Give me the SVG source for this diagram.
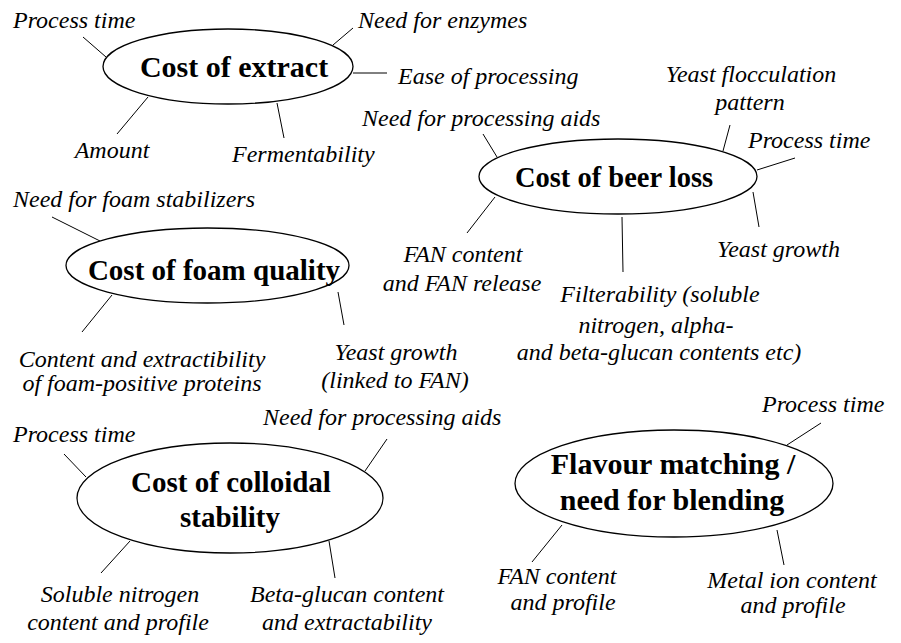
<svg xmlns="http://www.w3.org/2000/svg" width="901" height="643" viewBox="0 0 901 643">
<style>
.bg{fill:#ffffff}
.node ellipse{fill:#ffffff;stroke:#000000;stroke-width:1.3}
.title{font-family:"Liberation Serif","Times New Roman",serif;font-weight:bold;font-size:29px;fill:#000000;text-anchor:middle}
.lab{font-family:"Liberation Serif","Times New Roman",serif;font-style:italic;font-size:24px;fill:#000000}
.m{text-anchor:middle}
#connectors line{stroke:#000000;stroke-width:1}
</style>
<rect class="bg" x="0" y="0" width="901" height="643"/>
<g id="connectors">
  <line x1="83" y1="37" x2="106" y2="57"/>
  <line x1="333" y1="45" x2="353" y2="28"/>
  <line x1="353" y1="73" x2="387" y2="73"/>
  <line x1="148" y1="97" x2="117" y2="134"/>
  <line x1="277" y1="103" x2="284" y2="138"/>
  <line x1="483" y1="134" x2="497" y2="157"/>
  <line x1="730" y1="125" x2="723" y2="151"/>
  <line x1="795" y1="158" x2="757" y2="170"/>
  <line x1="753" y1="192" x2="759" y2="227"/>
  <line x1="622" y1="217" x2="623" y2="272"/>
  <line x1="495" y1="197" x2="467" y2="233"/>
  <line x1="52" y1="217" x2="100" y2="241"/>
  <line x1="112" y1="295" x2="82" y2="332"/>
  <line x1="338" y1="292" x2="344" y2="325"/>
  <line x1="64" y1="454" x2="86" y2="477"/>
  <line x1="387" y1="439" x2="365" y2="471"/>
  <line x1="130" y1="541" x2="101" y2="573"/>
  <line x1="329" y1="541" x2="335" y2="578"/>
  <line x1="821" y1="423" x2="787" y2="445"/>
  <line x1="562" y1="525" x2="532" y2="562"/>
  <line x1="777" y1="530" x2="784" y2="565"/>
</g>
<g id="node-extract" class="node">
  <ellipse cx="228" cy="66.5" rx="125" ry="37.5"/>
  <text class="title" x="234" y="77" style="font-size:30px">Cost of extract</text>
</g>
<g id="node-beer" class="node">
  <ellipse cx="618" cy="176.5" rx="139" ry="37.5"/>
  <text class="title" x="614" y="187" style="font-size:28.5px">Cost of beer loss</text>
</g>
<g id="node-foam" class="node">
  <ellipse cx="207.5" cy="265.5" rx="141.5" ry="37.5"/>
  <text class="title" x="214" y="280">Cost of foam quality</text>
</g>
<g id="node-colloidal" class="node">
  <ellipse cx="230" cy="498" rx="153" ry="55"/>
  <text class="title" x="231" y="492">Cost of colloidal</text>
  <text class="title" x="230" y="527">stability</text>
</g>
<g id="node-flavour" class="node">
  <ellipse cx="674" cy="483.5" rx="159" ry="53.5"/>
  <text class="title" x="673" y="474" style="font-size:30px">Flavour matching /</text>
  <text class="title" x="672" y="510" style="font-size:30px">need for blending</text>
</g>
<g id="labels-extract">
  <text class="lab" x="13" y="28">Process time</text>
  <text class="lab" x="358" y="28">Need for enzymes</text>
  <text class="lab" x="398" y="84">Ease of processing</text>
  <text class="lab m" x="112" y="158">Amount</text>
  <text class="lab" x="232" y="162">Fermentability</text>
</g>
<g id="labels-beer">
  <text class="lab" x="362" y="126">Need for processing aids</text>
  <text class="lab m" x="751" y="82">Yeast flocculation</text>
  <text class="lab m" x="750" y="110">pattern</text>
  <text class="lab" x="748" y="148">Process time</text>
  <text class="lab" x="717" y="257">Yeast growth</text>
  <text class="lab m" x="463" y="262">FAN content</text>
  <text class="lab m" x="462" y="291">and FAN release</text>
  <text class="lab m" x="660" y="302">Filterability (soluble</text>
  <text class="lab m" x="656" y="333">nitrogen, alpha-</text>
  <text class="lab m" x="659" y="360">and beta-glucan contents etc)</text>
</g>
<g id="labels-foam">
  <text class="lab" x="13" y="207">Need for foam stabilizers</text>
  <text class="lab m" x="142" y="367">Content and extractibility</text>
  <text class="lab m" x="142" y="391">of foam-positive proteins</text>
  <text class="lab m" x="396" y="360">Yeast growth</text>
  <text class="lab m" x="395" y="388">(linked to FAN)</text>
</g>
<g id="labels-colloidal">
  <text class="lab" x="13" y="442">Process time</text>
  <text class="lab" x="263" y="425">Need for processing aids</text>
  <text class="lab m" x="120" y="602">Soluble nitrogen</text>
  <text class="lab m" x="118" y="630">content and profile</text>
  <text class="lab m" x="347" y="602">Beta-glucan content</text>
  <text class="lab m" x="347" y="630">and extractability</text>
</g>
<g id="labels-flavour">
  <text class="lab" x="762" y="412">Process time</text>
  <text class="lab m" x="557" y="584">FAN content</text>
  <text class="lab m" x="563" y="610">and profile</text>
  <text class="lab m" x="792" y="588">Metal ion content</text>
  <text class="lab m" x="793" y="613">and profile</text>
</g>
</svg>
